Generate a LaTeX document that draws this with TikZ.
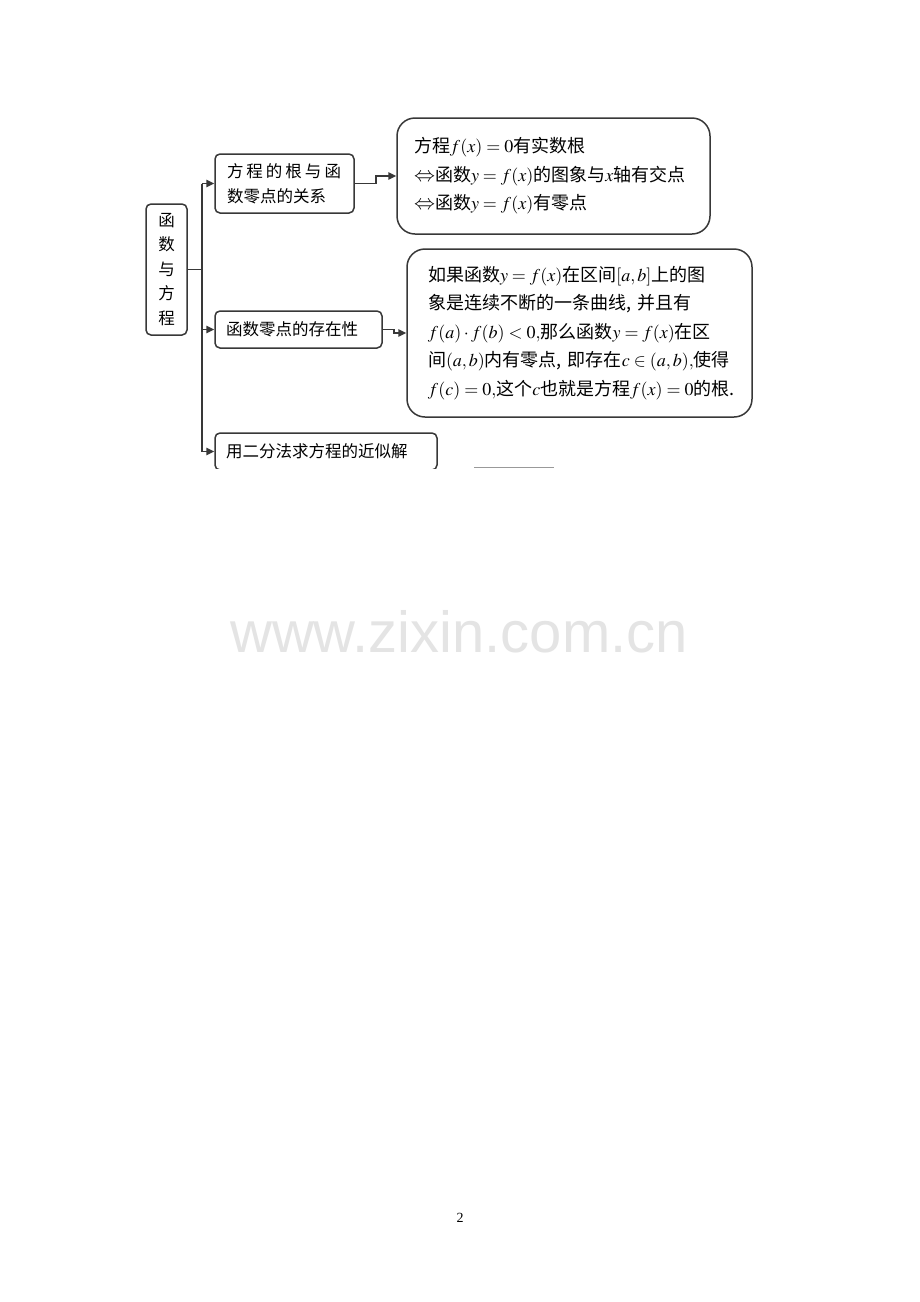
\documentclass[tikz,border=0pt]{standalone}
\usepackage{mathptmx}
\usepackage{fontspec}
\setmainfont{Noto Sans CJK SC}
\newfontfamily\wmfont{Liberation Sans}
\newfontfamily\pgfont{Liberation Serif}
\usetikzlibrary{arrows.meta,calc}
\definecolor{wmgray}{HTML}{E4E4E4}
\definecolor{linegray}{HTML}{383838}
\newcommand{\smallcjk}{\fontsize{16.5}{25}\selectfont}
\newcommand{\bigcjk}{\fontsize{18}{28.6}\selectfont}
\newcommand{\eqv}{\mbox{\fontsize{21}{21}\selectfont$\Leftrightarrow$}}

\begin{document}
\begin{tikzpicture}[x=1pt, y=-1pt,
    box/.style={draw=linegray, line width=1.5pt, rounded corners=5pt, align=left, inner ysep=0pt, font=\smallcjk},
    bigbox/.style={box, rounded corners=18pt, font=\bigcjk},
    conn/.style={draw=linegray, line width=1.5pt, -{Triangle[length=8pt,width=7.5pt]}}]
    \path[fill=white, use as bounding box] (0,0) rectangle (920,1302);
    % ROOT
    \node[box, align=center, inner xsep=0pt, minimum width=41pt, minimum height=131pt, font=\fontsize{16.5}{24.5}\selectfont] (root) at (166.5,269.5) {函\\数\\与\\方\\程};
    % BRANCHES
    \node[box, text width=115pt, inner xsep=12pt, minimum height=59pt] (rel) at (284.5,183.5) {方\kern3pt程\kern3pt的\kern3pt根\kern3pt与\kern3pt函\\数零点的关系};
    \node[box, text width=145pt, inner xsep=11pt, minimum height=37pt] (exist) at (298.5,329.5) {函数零点的存在性};
    \begin{scope}
        \clip (0,0) rectangle (920,468);
        \node[box, text width=200pt, inner xsep=11pt, minimum height=37pt] (bisect) at (326,451.5) {用二分法求方程的近似解};
    \end{scope}
    % DETAIL BOXES
    \node[bigbox, text width=279pt, inner xsep=17pt, minimum height=116pt] (relbox) at (553.5,176) {\mbox{方程$f(x)=0$有实数根}\\\mbox{\eqv 函数$y=f(x)$的图象与$x$轴有交点}\\\mbox{\eqv 函数$y=f(x)$有零点}};
    \node[bigbox, text width=303pt, inner xsep=21pt, minimum height=168pt] (existbox) at (579.5,333) {\mbox{如果函数$y=f(x)$在区间$[a,b]$上的图}\\\mbox{象是连续不断的一条曲线, 并且有}\\\mbox{$f(a)\cdot f(b)<0,$那么函数$y=f(x)$在区}\\\mbox{间$(a,b)$内有零点, 即存在$c\in(a,b),$使得}\\\mbox{$f(c)=0,$这个$c$也就是方程$f(x)=0$的根.}};
    % TRUNK AND ARROWS
    \coordinate (tk) at ($(root.east)+(14,0)$);
    \draw[draw=linegray, line width=1.5pt] (root.east) -- (tk);
    \draw[draw=linegray, line width=1.5pt] (tk |- rel.west) -- (tk |- bisect.west);
    \draw[conn] (tk |- rel.west) -- (rel.west);
    \draw[conn] (tk |- exist.west) -- (exist.west);
    \draw[conn] (tk |- bisect.west) -- (bisect.west);
    \draw[conn] (rel.east) -- ++(21,0) |- (relbox.west);
    \draw[conn] (exist.east) -- ++(11,0) |- (existbox.west);
    \draw[black!40, line width=0.8pt] (474,467) -- (554,467);
    % WATERMARK AND PAGE NUMBER
    \node[anchor=base, text=wmgray, font=\wmfont\fontsize{58}{58}\selectfont, inner sep=0pt] (wm) at (459,652) {www.zixin.com.cn};
    \node[anchor=base, font=\pgfont\fontsize{14}{14}\selectfont, inner sep=0pt] (pg) at (460,1222) {2};
\end{tikzpicture}
\end{document}
